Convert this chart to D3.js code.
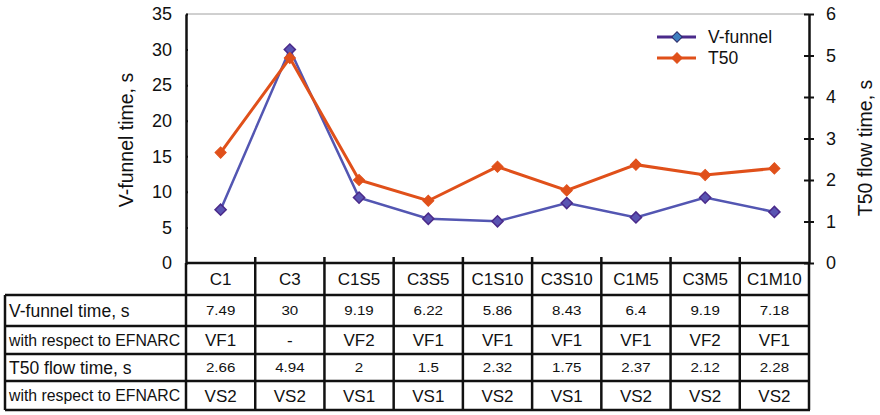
<!DOCTYPE html>
<html>
<head>
<meta charset="utf-8">
<script src="https://cdn.jsdelivr.net/npm/d3@7"></script>
<style>
  body { margin: 0; background: #fff; }
  svg text { font-family: "Liberation Sans", Arial, sans-serif; fill: #111; }
</style>
</head>
<body>
<div id="chart"></div>
<script>
const categories = ['C1', 'C3', 'C1S5', 'C3S5', 'C1S10', 'C3S10', 'C1M5', 'C3M5', 'C1M10'];
const vFunnel = [7.49, 30, 9.19, 6.22, 5.86, 8.43, 6.4, 9.19, 7.18];
const t50 = [2.66, 4.94, 2, 1.5, 2.32, 1.75, 2.37, 2.12, 2.28];
const vfClass = ['VF1', '-', 'VF2', 'VF1', 'VF1', 'VF1', 'VF1', 'VF2', 'VF1'];
const vsClass = ['VS2', 'VS2', 'VS1', 'VS1', 'VS2', 'VS1', 'VS2', 'VS2', 'VS2'];
const leftTicks = [0, 5, 10, 15, 20, 25, 30, 35];
const rightTicks = [0, 1, 2, 3, 4, 5, 6];
const rowLabels = ['V-funnel time, s', 'with respect to EFNARC', 'T50 flow time, s', 'with respect to EFNARC'];

const width = 880, height = 415;
const plotLeft = 186, plotRight = 809, plotTop = 14, plotBottom = 263;
const tableLeft = 5;
const rowEdges = [263, 295, 326, 354, 381, 410];

const svg = d3.select('#chart').append('svg')
    .attr('width', width)
    .attr('height', height);

// scales
const x = d3.scaleBand().domain(categories).range([plotLeft, plotRight]).padding(0);
const yLeft = d3.scaleLinear().domain([0, 35]).range([plotBottom, plotTop]);
const yRight = d3.scaleLinear().domain([0, 6]).range([plotBottom, plotTop]);
const cx = function (c) { return x(c) + x.bandwidth() / 2; };

// top grid line
svg.append('line')
    .attr('x1', plotLeft).attr('x2', plotRight)
    .attr('y1', yLeft(35)).attr('y2', yLeft(35))
    .attr('stroke', '#a0a0a0').attr('stroke-width', 1);

// axes
const leftAxis = d3.axisLeft(yLeft).tickValues(leftTicks).tickSizeInner(8).tickSizeOuter(0).tickPadding(6);
const gL = svg.append('g').attr('transform', `translate(${plotLeft},0)`).call(leftAxis);
const rightAxis = d3.axisRight(yRight).tickValues(rightTicks).tickFormat(d3.format('d'))
    .tickSizeInner(5).tickSizeOuter(0).tickPadding(12);
const gR = svg.append('g').attr('transform', `translate(${plotRight},0)`).call(rightAxis);

[gL, gR].forEach(function (g) {
    g.select('.domain').attr('stroke', '#111').attr('stroke-width', 2.5);
    g.selectAll('.tick line').attr('stroke', '#111').attr('stroke-width', 2);
    g.selectAll('.tick text').style('font-size', '18px').attr('fill', '#111')
        .style('font-family', '"Liberation Sans", Arial, sans-serif');
});
gR.selectAll('.tick line').attr('x1', -5);
gL.selectAll('.tick line').attr('x2', 2);

// axis titles
svg.append('text')
    .attr('transform', `translate(133, 140) rotate(-90)`)
    .attr('text-anchor', 'middle')
    .style('font-size', '19.5px')
    .text('V-funnel time, s');

svg.append('text')
    .attr('transform', `translate(872, 148) rotate(-90)`)
    .attr('text-anchor', 'middle')
    .style('font-size', '19.5px')
    .text('T50 flow time, s');

// lines
const lineLeft = d3.line()
    .x(function (d, i) { return cx(categories[i]); })
    .y(function (d) { return yLeft(d); });
const lineRight = d3.line()
    .x(function (d, i) { return cx(categories[i]); })
    .y(function (d) { return yRight(d); });

svg.append('path')
    .datum(vFunnel)
    .attr('d', lineLeft)
    .attr('fill', 'none')
    .attr('stroke', '#5356b2')
    .attr('stroke-width', 2.5);

svg.append('path')
    .datum(t50)
    .attr('d', lineRight)
    .attr('fill', 'none')
    .attr('stroke', '#e0501a')
    .attr('stroke-width', 3);

// diamond = square turned 45 degrees
const diamond = d3.symbol().type(d3.symbolSquare).size(62);

svg.selectAll('.vf-dot')
    .data(vFunnel)
    .enter()
    .append('path')
    .attr('class', 'vf-dot')
    .attr('d', diamond)
    .attr('transform', function (d, i) {
        return `translate(${cx(categories[i])},${yLeft(d)}) rotate(45)`;
    })
    .attr('fill', '#5a54b2')
    .attr('stroke', '#4a2a8a')
    .attr('stroke-width', 1.5);

svg.selectAll('.t50-dot')
    .data(t50)
    .enter()
    .append('path')
    .attr('class', 't50-dot')
    .attr('d', diamond)
    .attr('transform', function (d, i) {
        return `translate(${cx(categories[i])},${yRight(d)}) rotate(45)`;
    })
    .attr('fill', '#e0501a')
    .attr('stroke', '#e0501a')
    .attr('stroke-width', 1);

// legend
const legend = [
    { text: 'V-funnel', line: '#4a2a8a', fill: '#3f7fc0', stroke: '#2a2a6a', y: 37 },
    { text: 'T50', line: '#e0501a', fill: '#e0501a', stroke: '#e0501a', y: 58 }
];
const lg = svg.selectAll('.legend')
    .data(legend)
    .enter().append('g')
    .attr('class', 'legend')
    .attr('transform', function (d) { return `translate(0,${d.y})`; });
lg.append('line')
    .attr('x1', 657).attr('x2', 696)
    .attr('stroke', function (d) { return d.line; })
    .attr('stroke-width', 3);
lg.append('path')
    .attr('d', d3.symbol().type(d3.symbolSquare).size(55))
    .attr('transform', 'translate(677,0) rotate(45)')
    .attr('fill', function (d) { return d.fill; })
    .attr('stroke', function (d) { return d.stroke; })
    .attr('stroke-width', 1);
lg.append('text')
    .attr('x', 708)
    .attr('dy', '0.35em')
    .style('font-size', '17.5px')
    .text(function (d) { return d.text; });

// table
const table = svg.append('g');

// category header
table.selectAll('.cat')
    .data(categories)
    .enter().append('text')
    .attr('x', function (c) { return cx(c); })
    .attr('y', (rowEdges[0] + rowEdges[1]) / 2)
    .attr('dy', '0.36em')
    .attr('text-anchor', 'middle')
    .style('font-size', '17px')
    .text(function (c) { return c; });

// horizontal lines
rowEdges.slice(1).forEach(function (y) {
    table.append('line')
        .attr('x1', tableLeft).attr('x2', plotRight + 1)
        .attr('y1', y).attr('y2', y)
        .attr('stroke', '#111').attr('stroke-width', 2.5);
});
// x axis line
table.append('line')
    .attr('x1', plotLeft).attr('x2', plotRight)
    .attr('y1', rowEdges[0]).attr('y2', rowEdges[0])
    .attr('stroke', '#111').attr('stroke-width', 2.5);

// vertical lines
const colEdges = categories.map(function (c) { return x(c); }).concat([plotRight]);
colEdges.forEach(function (xe, i) {
    table.append('line')
        .attr('x1', xe).attr('x2', xe)
        .attr('y1', i === 0 || i === colEdges.length - 1 ? rowEdges[0] : rowEdges[0] - 6)
        .attr('y2', rowEdges[rowEdges.length - 1])
        .attr('stroke', '#111').attr('stroke-width', 2.5);
});
table.append('line')
    .attr('x1', tableLeft).attr('x2', tableLeft)
    .attr('y1', rowEdges[1]).attr('y2', rowEdges[5])
    .attr('stroke', '#111').attr('stroke-width', 2.5);

// row labels
table.selectAll('.rowlab')
    .data(rowLabels)
    .enter().append('text')
    .attr('x', tableLeft + 4)
    .attr('y', function (d, i) { return (rowEdges[i + 1] + rowEdges[i + 2]) / 2; })
    .attr('dy', '0.36em')
    .style('font-size', function (d, i) { return i % 2 === 0 ? '17.5px' : '15.8px'; })
    .text(function (d) { return d; });

const rows = [
    { vals: vFunnel.map(String), size: '13.5px', sx: 1.12 },
    { vals: vfClass, size: '17px', sx: 1 },
    { vals: t50.map(String), size: '13.5px', sx: 1.12 },
    { vals: vsClass, size: '17px', sx: 1 }
];
rows.forEach(function (row, r) {
    table.selectAll('.r' + r)
        .data(row.vals)
        .enter().append('text')
        .attr('transform', function (d, i) {
            return `translate(${cx(categories[i])},${(rowEdges[r + 1] + rowEdges[r + 2]) / 2}) scale(${row.sx},1)`;
        })
        .attr('dy', '0.36em')
        .attr('text-anchor', 'middle')
        .style('font-size', row.size)
        .text(function (d) { return d; });
});
</script>
</body>
</html>
